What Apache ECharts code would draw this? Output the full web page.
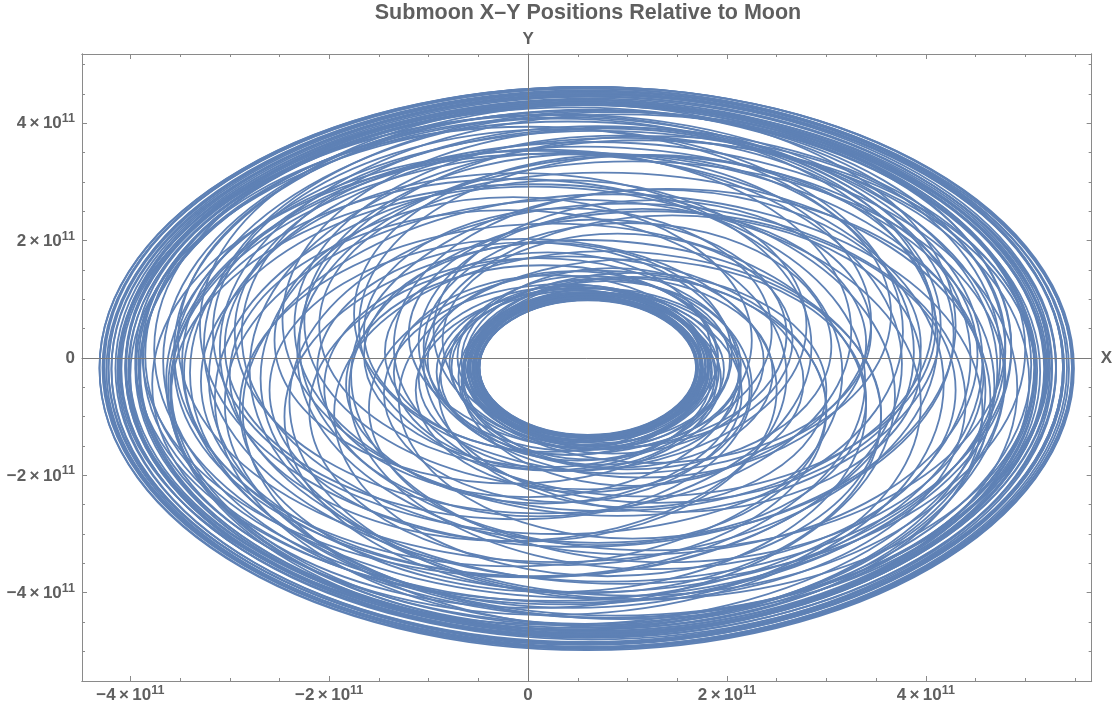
<!DOCTYPE html>
<html>
<head>
<meta charset="utf-8">
<title>Submoon X–Y Positions Relative to Moon</title>
<script src="https://cdn.jsdelivr.net/npm/echarts@6/dist/echarts.min.js"></script>
<style>
  html, body { margin: 0; padding: 0; background: #ffffff; }
  #chart { width: 1115px; height: 708px; }
</style>
</head>
<body>
<div id="chart"></div>
<script>
// All positions are in units of 1e11.
const UNIT = 1e11;

// Axis ranges of the frame.
const X_RANGE = [-4.486, 5.668];
const Y_RANGE = [-5.505, 5.18];

// Labelled (major) and unlabelled (minor) frame ticks.
const xMajorTicks = [-4, -2, 0, 2, 4];
const xMinorTicks = [-3.5, -3, -2.5, -1.5, -1, -0.5, 0.5, 1, 1.5, 2.5, 3, 3.5, 4.5, 5, 5.5];
const yMajorTicks = [-4, -2, 0, 2, 4];
const yMinorTicks = [-5, -4.5, -3.5, -3, -2.5, -1.5, -1, -0.5, 0.5, 1, 1.5, 2.5, 3, 3.5, 4.5, 5];

// Loops of the submoon path: centre (x, y) and half-widths (x, y).
// Outer band
const loopCX = [
  0.59, 0.60, 0.57, 0.61, 0.58, 0.62, 0.56, 0.60, 0.63, 0.55, 0.59, 0.64, 0.54, 0.61,
  0.58, 0.62, 0.56, 0.60, 0.64, 0.57, 0.61, 0.58, 0.65, 0.53, 0.62, 0.57,
  // near-outer
  0.78, 0.40, 0.70, 0.45, 0.85, 0.35, 0.62, 0.55,
  0.30, 0.88, 0.55, 0.65, 0.25, 0.95, 0.50, 0.80,
  // upper middle
  0.95, 0.20, 0.75, 0.30, 1.05, 0.10, 0.70, 0.45, 1.10, 0.05,
  1.15, 0.00, 0.50, 0.85, 0.05, 1.25, 0.30, 1.00, -0.15, 0.80,
  // middle
  0.90, 0.25, 1.25, -0.10, 0.60, 0.80, 1.30, -0.05, 0.35, 1.05,
  1.40, 0.15, 0.55, 1.20, -0.20, 0.95, 0.40, 1.45, -0.15, 0.70, 1.25, 0.00,
  // lower middle
  1.15, 0.10, 0.40, 1.05, 0.20, 0.90, 0.55, 0.25, 0.85,
  1.00, 0.15, 0.70, 0.35, 1.05, 0.20, 0.90, 0.40,
  // near-inner
  0.45, 0.72, 0.50, 0.70, 0.52, 0.66,
  0.78, 0.42, 0.60, 0.64, 0.48, 0.73,
  // inner band
  0.60, 0.61, 0.59, 0.62, 0.58, 0.60, 0.63, 0.57, 0.61, 0.59,
  0.60, 0.62, 0.58, 0.61, 0.59, 0.63, 0.57, 0.62
];
const loopCY = [
  -0.18, -0.16, -0.17, -0.19, -0.15, -0.18, -0.20, -0.14, -0.17, -0.19, -0.21, -0.15, -0.16, -0.22,
  -0.17, -0.20, -0.15, -0.18, -0.16, -0.22, -0.13, -0.19, -0.18, -0.14, -0.24, -0.11,
  -0.05, -0.30, -0.40, 0.05, -0.25, -0.05, 0.12, -0.48,
  -0.20, -0.10, 0.15, -0.52, 0.00, -0.35, -0.55, 0.20,
  0.15, -0.45, -0.70, 0.30, -0.35, -0.10, 0.40, -0.78, 0.05, -0.40,
  -0.20, 0.10, 0.55, -0.90, -0.65, 0.25, 0.45, -0.75, -0.25, 0.65,
  0.55, -0.85, -0.55, 0.20, 0.62, -0.95, 0.20, -0.55, 0.55, -0.70,
  -0.30, 0.45, -1.00, 0.55, -0.30, 0.75, -0.90, -0.10, 0.30, -0.85, 0.45, -0.20,
  0.25, -0.50, 0.45, -0.55, 0.05, 0.30, -0.55, -0.25, -0.05,
  0.20, -0.45, 0.40, -0.60, -0.40, 0.10, -0.25, -0.35,
  -0.05, -0.32, -0.30, -0.05, -0.16, -0.22,
  -0.12, -0.24, 0.02, -0.36, -0.10, -0.20,
  -0.16, -0.17, -0.15, -0.18, -0.16, -0.19, -0.15, -0.18, -0.14, -0.20,
  -0.17, -0.16, -0.18, -0.15, -0.19, -0.17, -0.15, -0.20
];
const loopRX = [
  4.90, 4.87, 4.85, 4.83, 4.80, 4.77, 4.75, 4.71, 4.68, 4.64, 4.61, 4.58, 4.55, 4.51,
  4.89, 4.86, 4.82, 4.79, 4.74, 4.70, 4.66, 4.63, 4.60, 4.57, 4.53, 4.49,
  4.45, 4.40, 4.34, 4.30, 4.25, 4.22, 4.18, 4.14,
  4.42, 4.36, 4.31, 4.27, 4.20, 4.16, 4.10, 4.06,
  4.05, 3.98, 3.90, 3.82, 3.74, 3.66, 3.58, 3.50, 3.42, 3.34,
  3.95, 3.88, 3.80, 3.72, 3.64, 3.55, 3.47, 3.40, 3.31, 3.27,
  3.25, 3.15, 3.05, 2.95, 2.85, 2.75, 2.65, 2.55, 2.45, 2.35,
  3.18, 3.10, 3.00, 2.90, 2.80, 2.70, 2.60, 2.50, 2.40, 2.30, 2.20, 2.12,
  2.25, 2.15, 2.05, 1.95, 1.85, 1.76, 1.68, 1.60, 1.52,
  2.05, 1.98, 1.90, 1.80, 1.72, 1.64, 1.56, 1.50,
  1.46, 1.42, 1.38, 1.33, 1.29, 1.26,
  1.36, 1.34, 1.31, 1.30, 1.27, 1.24,
  1.09, 1.10, 1.11, 1.12, 1.13, 1.15, 1.16, 1.18, 1.20, 1.23,
  1.09, 1.11, 1.12, 1.14, 1.17, 1.19, 1.21, 1.22
];
const loopRY = [
  4.80, 4.78, 4.76, 4.73, 4.71, 4.68, 4.66, 4.63, 4.59, 4.56, 4.53, 4.50, 4.47, 4.44,
  4.79, 4.75, 4.74, 4.70, 4.64, 4.62, 4.58, 4.54, 4.51, 4.49, 4.46, 4.42,
  4.38, 4.33, 4.27, 4.22, 4.18, 4.15, 4.11, 4.08,
  4.35, 4.29, 4.24, 4.20, 4.14, 4.10, 4.05, 4.01,
  4.00, 3.93, 3.86, 3.78, 3.70, 3.63, 3.55, 3.48, 3.40, 3.32,
  3.91, 3.84, 3.77, 3.69, 3.61, 3.53, 3.45, 3.38, 3.30, 3.26,
  3.24, 3.14, 3.05, 2.95, 2.86, 2.77, 2.67, 2.58, 2.48, 2.38,
  3.18, 3.10, 3.01, 2.91, 2.82, 2.72, 2.63, 2.53, 2.44, 2.34, 2.24, 2.17,
  2.29, 2.20, 2.10, 2.00, 1.91, 1.82, 1.74, 1.66, 1.58,
  2.10, 2.03, 1.96, 1.86, 1.78, 1.70, 1.62, 1.57,
  1.53, 1.50, 1.45, 1.40, 1.36, 1.33,
  1.43, 1.41, 1.38, 1.37, 1.34, 1.31,
  1.15, 1.16, 1.17, 1.18, 1.19, 1.21, 1.22, 1.24, 1.26, 1.29,
  1.15, 1.16, 1.18, 1.20, 1.22, 1.25, 1.27, 1.28
];

const FONT = '"Liberation Sans", Arial, Helvetica, sans-serif';
const TEXT_COLOR = '#5f5f5f';
const FRAME_COLOR = '#8a8a8a';
const ORIGIN_COLOR = '#7a7a7a';
const PATH_COLOR = '#5E81B5';

const loopData = loopCX.map((cx, i) => [
  cx * UNIT, loopCY[i] * UNIT, loopRX[i] * UNIT, loopRY[i] * UNIT
]);
const scaled = (arr) => arr.map((v) => v * UNIT);

// "4 × 10^11"-style tick labels with a raised exponent.
function sciLabel(value) {
  const m = Math.round(value / UNIT * 10) / 10;
  if (m === 0) return '{m|0}';
  const sign = m < 0 ? '\u2212' : '';
  return '{m|' + sign + Math.abs(m) + '\u2009\u00d7\u200910}{e|11}';
}
const labelRich = {
  m: { fontFamily: FONT, fontSize: 17, fontWeight: 'bold', color: TEXT_COLOR,
       lineHeight: 18, verticalAlign: 'bottom' },
  e: { fontFamily: FONT, fontSize: 12.5, fontWeight: 'bold', color: TEXT_COLOR,
       lineHeight: 13, padding: [0, 0, 7, 0], verticalAlign: 'bottom' }
};

function frameAxis(dim, position, ticks, tickLen, withLabels) {
  const range = dim === 'x' ? X_RANGE : Y_RANGE;
  return {
    type: 'value',
    position: position,
    min: range[0] * UNIT,
    max: range[1] * UNIT,
    axisLine: { show: true, onZero: false, lineStyle: { color: FRAME_COLOR, width: 1 } },
    axisTick: { show: true, inside: true, length: tickLen, customValues: scaled(ticks),
                lineStyle: { color: FRAME_COLOR, width: 1 } },
    axisLabel: withLabels ? {
      show: true, customValues: scaled(ticks), formatter: sciLabel, rich: labelRich,
      margin: dim === 'x' ? 5 : 7, hideOverlap: false
    } : { show: false },
    splitLine: { show: false },
    minorTick: { show: false }
  };
}

function originAxis(dim, name) {
  const range = dim === 'x' ? X_RANGE : Y_RANGE;
  return {
    type: 'value',
    position: dim === 'x' ? 'bottom' : 'left',
    min: range[0] * UNIT,
    max: range[1] * UNIT,
    z: 5,
    name: name,
    nameLocation: 'end',
    nameGap: dim === 'x' ? 9 : 6,
    nameTextStyle: { fontFamily: FONT, fontSize: 17, fontWeight: 'bold', color: TEXT_COLOR },
    axisLine: { show: true, onZero: true, onZeroAxisIndex: 0,
                lineStyle: { color: ORIGIN_COLOR, width: 1 } },
    axisTick: { show: false },
    axisLabel: { show: false },
    splitLine: { show: false }
  };
}

const chart = echarts.init(document.getElementById('chart'), null, { renderer: 'canvas' });
chart.setOption({
  animation: false,
  backgroundColor: '#ffffff',
  title: {
    text: 'Submoon X\u2013Y Positions Relative to Moon',
    left: 588,
    top: 2,
    padding: 0,
    textAlign: 'center',
    textVerticalAlign: 'top',
    textStyle: { fontFamily: FONT, fontSize: 21.5, fontWeight: 'bold', color: TEXT_COLOR }
  },
  grid: { left: 82, right: 21, top: 54, bottom: 27, containLabel: false },
  xAxis: [
    frameAxis('x', 'bottom', xMajorTicks, 5, true),
    frameAxis('x', 'bottom', xMinorTicks, 3, false),
    frameAxis('x', 'top', xMajorTicks, 5, false),
    frameAxis('x', 'top', xMinorTicks, 3, false),
    originAxis('x', 'X')
  ],
  yAxis: [
    frameAxis('y', 'left', yMajorTicks, 5, true),
    frameAxis('y', 'left', yMinorTicks, 3, false),
    frameAxis('y', 'right', yMajorTicks, 5, false),
    frameAxis('y', 'right', yMinorTicks, 3, false),
    originAxis('y', 'Y')
  ],
  series: [{
    type: 'custom',
    name: 'Submoon path',
    xAxisIndex: 0,
    yAxisIndex: 0,
    clip: true,
    z: 2,
    dimensions: ['cx', 'cy', 'rx', 'ry'],
    encode: { x: 0, y: 1 },
    data: loopData,
    renderItem: function (params, api) {
      const c = api.coord([api.value(0), api.value(1)]);
      const s = api.size([api.value(2), api.value(3)]);
      return {
        type: 'ellipse',
        shape: { cx: c[0], cy: c[1], rx: s[0], ry: s[1] },
        style: { fill: 'none', stroke: PATH_COLOR, lineWidth: 1.8 },
        silent: true
      };
    }
  }]
});
</script>
</body>
</html>
